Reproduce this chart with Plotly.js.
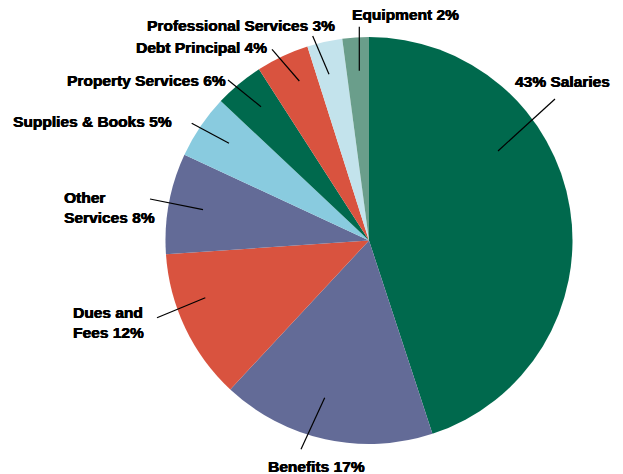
<!DOCTYPE html>
<html>
<head>
<meta charset="utf-8">
<script src="https://cdn.plot.ly/plotly-3.0.1.min.js"></script>
<style>html,body{margin:0;padding:0;background:#fff;}#chart{width:623px;height:474px;}</style>
</head>
<body>
<div id="chart"></div>
<script>
// Data (clockwise from 12 o'clock)
var categories = ["Salaries", "Benefits", "Dues and Fees", "Other Services", "Supplies & Books",
                  "Property Services", "Debt Principal", "Professional Services", "Equipment"];
// Slice shares as drawn in the picture (percent)
var values = [45, 17, 12, 8, 5.1, 3.9, 4.2, 2.8, 2.1];
// Percentages as printed on the labels
var printedPct = [43, 17, 12, 8, 5, 6, 4, 3, 2];
var labelText = ["43% Salaries", "Benefits 17%", "Dues and<br>Fees 12%", "Other<br>Services 8%",
                 "Supplies & Books 5%", "Property Services 6%", "Debt Principal 4%",
                 "Professional Services 3%", "Equipment 2%"];
var colors = ["#00694d", "#636b97", "#d9533f", "#636b97", "#89cbdf",
              "#00694d", "#d9533f", "#c3e3ec", "#6a9e8b"];

// Label placement (pixels): text anchor and leader line endpoints
var W = 623, H = 474;
var labelPos = [
  {x: 514, y: 81,  xa: "left",   line: [498, 151, 555, 99]},
  {x: 316.7, y: 466, xa: "center", line: [324.7, 397.7, 301, 449.3]},
  {x: 72, y: 322.5, xa: "left",  line: [205.3, 297.7, 157, 317.7]},
  {x: 62.5, y: 207.5, xa: "left", line: [203, 209.7, 150, 199]},
  {x: 172.5, y: 122, xa: "right", line: [229, 143.3, 191.7, 123.3]},
  {x: 227, y: 80.3, xa: "right", line: [261, 106.7, 228, 80]},
  {x: 268, y: 48,  xa: "right",  line: [299.3, 81, 272, 49.3]},
  {x: 336, y: 25,  xa: "right",  line: [329, 74.3, 312.7, 36]},
  {x: 351, y: 15,  xa: "left",   line: [359.3, 70.7, 359.3, 26.7]}
];

function px(x) { return x / W; }
function py(y) { return 1 - y / H; }

var annotations = [], shapes = [];
labelPos.forEach(function (p, i) {
  annotations.push({
    text: labelText[i], xref: "paper", yref: "paper",
    x: px(p.x), y: py(p.y), xanchor: p.xa, yanchor: "middle",
    showarrow: false, align: "left", borderpad: 0,
    font: {family: "Liberation Sans, Arial, sans-serif", size: 15.5, color: "#000", weight: "bold",
           shadow: "0.45px 0 0 #000, -0.2px 0 0 #000"}
  });
  shapes.push({
    type: "line", xref: "paper", yref: "paper",
    x0: px(p.line[0]), y0: py(p.line[1]), x1: px(p.line[2]), y1: py(p.line[3]),
    line: {color: "#000", width: 1.2}
  });
});

var cx = 369, cy = 240.5, R = 203.5;
var trace = {
  type: "pie",
  labels: categories,
  values: values,
  sort: false,
  direction: "clockwise",
  rotation: 0,
  textinfo: "none",
  hoverinfo: "label+percent",
  marker: {colors: colors, line: {width: 0}},
  domain: {x: [px(cx - R), px(cx + R)], y: [py(cy + R), py(cy - R)]},
  showlegend: false
};

var layout = {
  width: W, height: H,
  margin: {l: 0, r: 0, t: 0, b: 0},
  paper_bgcolor: "#fff",
  plot_bgcolor: "#fff",
  showlegend: false,
  annotations: annotations,
  shapes: shapes
};

Plotly.newPlot("chart", [trace], layout, {displayModeBar: false, staticPlot: true});
</script>
</body>
</html>
